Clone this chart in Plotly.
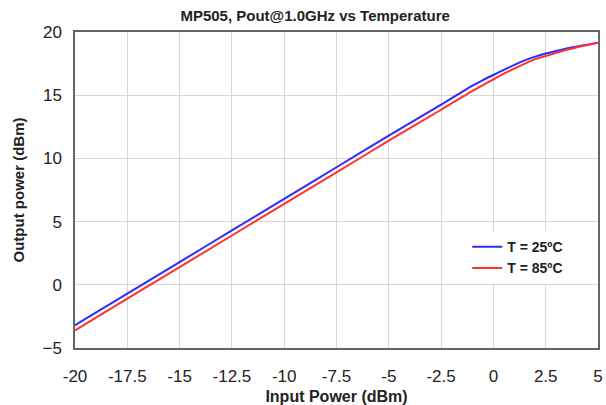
import plotly.graph_objects as go

pin = [-20, -17.5, -15, -12.5, -10, -7.5, -5, -2.5, -1, -0.5, 0, 0.5, 1, 1.5, 2, 2.5, 3, 3.5, 4, 4.5, 5]
pout_25 = [-3.2, -0.7, 1.8, 4.3, 6.8, 9.3, 11.8, 14.25, 15.75, 16.2, 16.6, 17.0, 17.4, 17.75, 18.05, 18.3, 18.5, 18.7, 18.85, 19.0, 19.15]
pout_85 = [-3.6, -1.1, 1.4, 3.9, 6.4, 8.9, 11.4, 13.85, 15.35, 15.8, 16.25, 16.7, 17.1, 17.5, 17.85, 18.1, 18.35, 18.6, 18.8, 18.97, 19.15]

x_ticks = [-20, -17.5, -15, -12.5, -10, -7.5, -5, -2.5, 0, 2.5, 5]
y_ticks = [-5, 0, 5, 10, 15, 20]

FONT = "Liberation Sans, Arial, sans-serif"

fig = go.Figure()
fig.add_trace(go.Scatter(x=pin, y=pout_25, mode="lines", name="<b>T = 25\u00baC</b>",
                         line=dict(color="#2b2bff", width=2, shape="spline", smoothing=0.6)))
fig.add_trace(go.Scatter(x=pin, y=pout_85, mode="lines", name="<b>T = 85\u00baC</b>",
                         line=dict(color="#ff3030", width=2, shape="spline", smoothing=0.6)))

fig.update_layout(
    width=606, height=405,
    margin=dict(l=75, r=8, t=32, b=57),
    paper_bgcolor="white", plot_bgcolor="white",
    font=dict(family=FONT, size=15, color="#222"),
    title=dict(text="<b>MP505, Pout@1.0GHz vs Temperature</b>", x=0.52, xanchor="center",
               y=0.975, yanchor="top", font=dict(size=15, color="#222")),
    showlegend=True,
    legend=dict(x=0.75, y=0.37, xanchor="left", yanchor="top",
                bgcolor="white", borderwidth=0, itemwidth=30,
                font=dict(size=14, color="#222"), tracegroupgap=0),
)
fig.update_xaxes(range=[-20, 5], tickvals=x_ticks, ticktext=[f"{v:g}" for v in x_ticks],
                 tickfont=dict(size=17), automargin=False,
                 showgrid=True, gridcolor="#d6d6d6", gridwidth=1,
                 showline=True, linecolor="#666", linewidth=1.5, mirror=True,
                 zeroline=False, ticks="outside", ticklen=12, tickcolor="rgba(0,0,0,0)",
                 title=dict(text="<b>Input Power (dBm)</b>", standoff=6, font=dict(size=16)))
fig.update_yaxes(range=[-5, 20], tickvals=y_ticks,
                 tickfont=dict(size=17), automargin=False,
                 showgrid=True, gridcolor="#d6d6d6", gridwidth=1,
                 showline=True, linecolor="#666", linewidth=1.5, mirror=True,
                 zeroline=False, ticks="outside", ticklen=8, tickcolor="rgba(0,0,0,0)",
                 title=dict(text="<b>Output power (dBm)</b>", standoff=14, font=dict(size=15)))

fig.write_html("out.html", config={"displayModeBar": False},
               post_script="document.body.style.margin='0';document.body.style.overflow='hidden';")
